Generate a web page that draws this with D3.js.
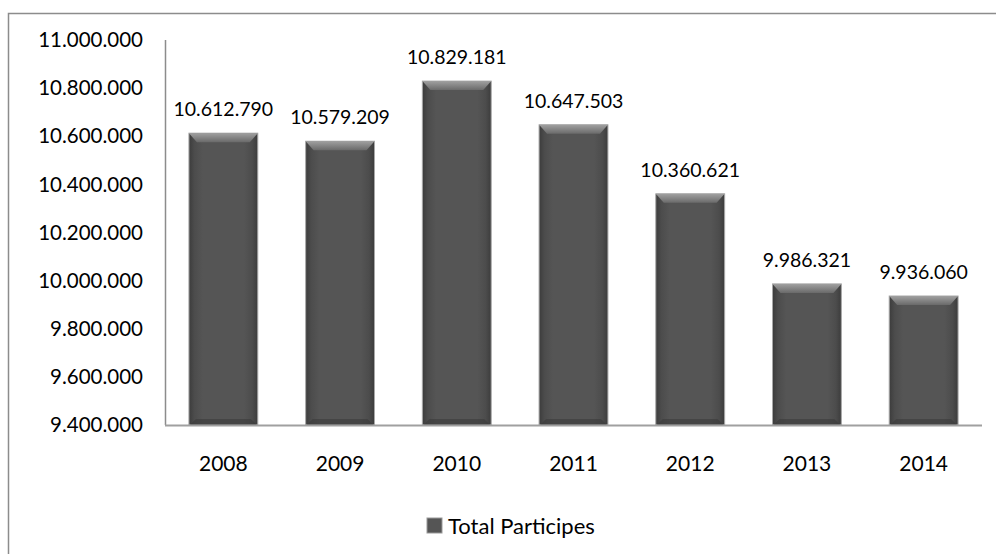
<!DOCTYPE html>
<html><head><meta charset="utf-8">
<script src="https://cdn.jsdelivr.net/npm/d3@7"></script>
<style>body{margin:0;background:#fff}svg{display:block}text{font-family:Lato,"Open Sans",sans-serif;fill:#000}</style>
</head><body>
<svg id="c" width="996" height="554"></svg>
<script>
const categories = ["2008","2009","2010","2011","2012","2013","2014"];
const values = [10612790,10579209,10829181,10647503,10360621,9986321,9936060];
const yTicks = [9400000,9600000,9800000,10000000,10200000,10400000,10600000,10800000,11000000];
const seriesName = "Total Participes";

const svg = d3.select("#c");
const loc = d3.formatLocale({decimal:",",thousands:".",grouping:[3],currency:["",""]});
const fmt = loc.format(",d");

// outer border
svg.append("rect").attr("x",8.5).attr("y",13.5).attr("width",1100).attr("height",700)
  .attr("fill","none").attr("stroke","#8c8c8c").attr("stroke-width",1.5);

const x = d3.scaleBand().domain(categories).range([165,982]).paddingInner(0.41).paddingOuter(0.205);
const y = d3.scaleLinear().domain([9400000,11000000]).range([425,40]);

const defs = svg.append("defs");
const g1 = defs.append("linearGradient").attr("id","body").attr("x1","0").attr("x2","1").attr("y1","0").attr("y2","0");
[[0,"#3c3c3c"],[0.08,"#4c4c4c"],[0.2,"#555"],[0.8,"#555"],[0.92,"#4c4c4c"],[1,"#3c3c3c"]].forEach(s=>g1.append("stop").attr("offset",s[0]).attr("stop-color",s[1]));
const g2 = defs.append("linearGradient").attr("id","cap").attr("x1","0").attr("x2","0").attr("y1","0").attr("y2","1");
[[0,"#a0a0a0"],[1,"#6a6a6a"]].forEach(s=>g2.append("stop").attr("offset",s[0]).attr("stop-color",s[1]));

// y axis labels
svg.append("g").selectAll("text").data(yTicks).join("text")
  .attr("x",143).attr("y",d=>y(d)).attr("dy","0.35em").attr("text-anchor","end")
  .attr("font-size",20.5).text(d=>fmt(d));

// bars
const bars = svg.append("g").selectAll("g").data(values).join("g");
bars.append("rect")
  .attr("x",(d,i)=>x(categories[i])).attr("y",d=>y(d))
  .attr("width",x.bandwidth()).attr("height",d=>y(9400000)-y(d))
  .attr("fill","url(#body)").attr("stroke","#a8a8a8").attr("stroke-width",1);
bars.append("path").attr("d",(d,i)=>{
  const x0=x(categories[i]), x1=x0+x.bandwidth(), t=y(d), h=9;
  return `M${x0},${t}L${x1},${t}L${x1-8},${t+h}L${x0+8},${t+h}Z`;
}).attr("fill","url(#cap)");
bars.append("path").attr("d",(d,i)=>{
  const x0=x(categories[i]), x1=x0+x.bandwidth(), b=y(9400000), h=6;
  return `M${x0+1},${b}L${x1-1},${b}L${x1-7},${b-h}L${x0+7},${b-h}Z`;
}).attr("fill","#3a3a3a").attr("opacity",0.6);

// value labels
svg.append("g").selectAll("text").data(values).join("text")
  .attr("x",(d,i)=>x(categories[i])+x.bandwidth()/2).attr("y",d=>y(d)-17)
  .attr("text-anchor","middle").attr("font-size",19.5).text(d=>fmt(d));

// axes lines
svg.append("line").attr("x1",165.5).attr("x2",165.5).attr("y1",40).attr("y2",425).attr("stroke","#8c8c8c").attr("stroke-width",1.5);
svg.append("line").attr("x1",165).attr("x2",982).attr("y1",425.5).attr("y2",425.5).attr("stroke","#a0a0a0").attr("stroke-width",2);

// x labels
svg.append("g").selectAll("text").data(categories).join("text")
  .attr("x",d=>x(d)+x.bandwidth()/2).attr("y",471).attr("text-anchor","middle")
  .attr("font-size",21).text(d=>d);

// legend
svg.append("rect").attr("x",427).attr("y",518).attr("width",15).attr("height",15).attr("fill","#555").attr("stroke","#999");
svg.append("text").attr("x",448).attr("y",534).attr("font-size",22).text(seriesName);
</script>
</body></html>
